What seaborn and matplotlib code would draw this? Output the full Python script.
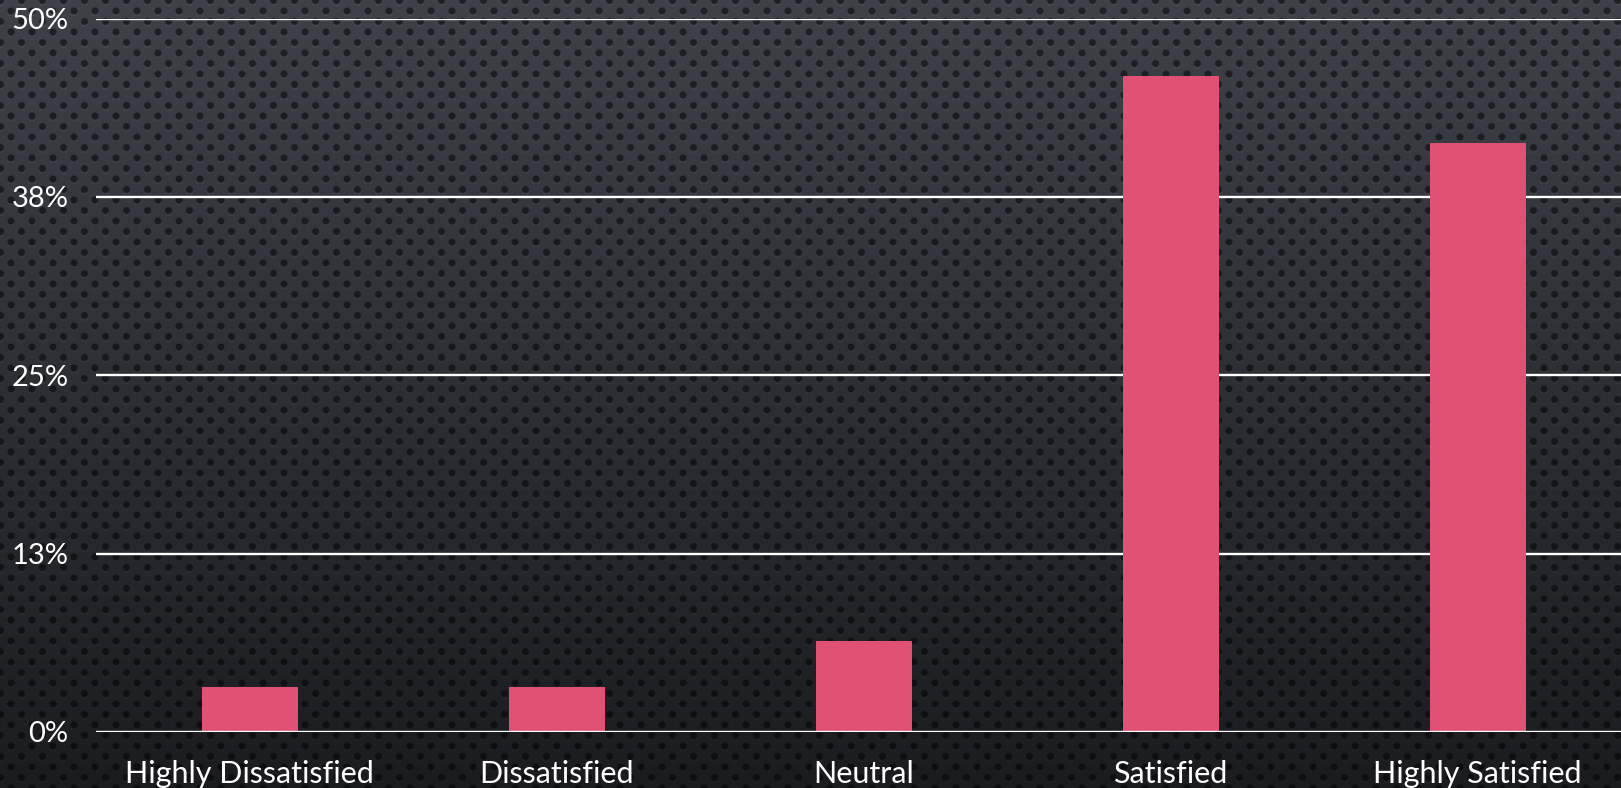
import numpy as np
import pandas as pd
import seaborn as sns
import matplotlib.pyplot as plt

# Data (share of respondents)
categories = ['Highly Dissatisfied', 'Dissatisfied', 'Neutral', 'Satisfied', 'Highly Satisfied']
shares = [3.17, 3.17, 6.35, 46.0, 41.3]
y_ticks = [0, 12.5, 25, 37.5, 50]
y_tick_labels = ['0%', '13%', '25%', '38%', '50%']

df = pd.DataFrame({'rating': categories, 'share': shares})

sns.set_theme(style='white')
plt.rcParams['font.family'] = ['Lato', 'DejaVu Sans']

W, H = 1621, 788
fig = plt.figure(figsize=(W / 100, H / 100), dpi=100)

# Dark perforated background: vertical gradient with staggered dots
yy, xx = np.mgrid[0:H, 0:W].astype(float)
t = yy / H
top = np.array([62, 65, 72]) / 255
bot = np.array([27, 28, 32]) / 255
base = top[None, None, :] * (1 - t[..., None]) + bot[None, None, :] * t[..., None]
row_h, col_w = 10.5, 21.0
r = np.round(yy / row_h)
cx = (np.round((xx - (r % 2) * col_w / 2) / col_w)) * col_w + (r % 2) * col_w / 2
d = np.hypot(xx - cx, yy - r * row_h)
dot = np.clip(1.0 - (d - 2.8) / 1.4, 0, 1)
hl = np.clip(1.0 - (np.hypot(xx - cx, yy - r * row_h - 2.5) - 2.8) / 1.4, 0, 1) * (1 - dot)
shade = 1 - 0.5 * dot + 0.12 * hl
bg = np.clip(base * shade[..., None], 0, 1)
bg_ax = fig.add_axes([0, 0, 1, 1], zorder=0)
bg_ax.imshow(bg, aspect='auto', interpolation='bilinear')
bg_ax.axis('off')

ax = fig.add_axes([0.0593, 0.0711, 0.947, 0.9053], zorder=1)
ax.set_facecolor('none')
sns.barplot(data=df, x='rating', y='share', color='#E05174', saturation=1,
            width=0.313, linewidth=0, edgecolor='none', ax=ax, zorder=3)

ax.set_xlim(-0.5, 4.5)
ax.set_ylim(0, 50)
ax.set_yticks(y_ticks)
ax.set_yticklabels(y_tick_labels)
for y in y_ticks:
    ax.axhline(y, color='white', lw=1.7, zorder=2 if y else 4)

ax.set_xlabel('')
ax.set_ylabel('')
for s in ax.spines.values():
    s.set_visible(False)
ax.tick_params(axis='both', length=0, colors='white')
ax.tick_params(axis='x', pad=20, labelsize=22)
ax.tick_params(axis='y', pad=20, labelsize=21)

fig.savefig('out.png', dpi=100)
